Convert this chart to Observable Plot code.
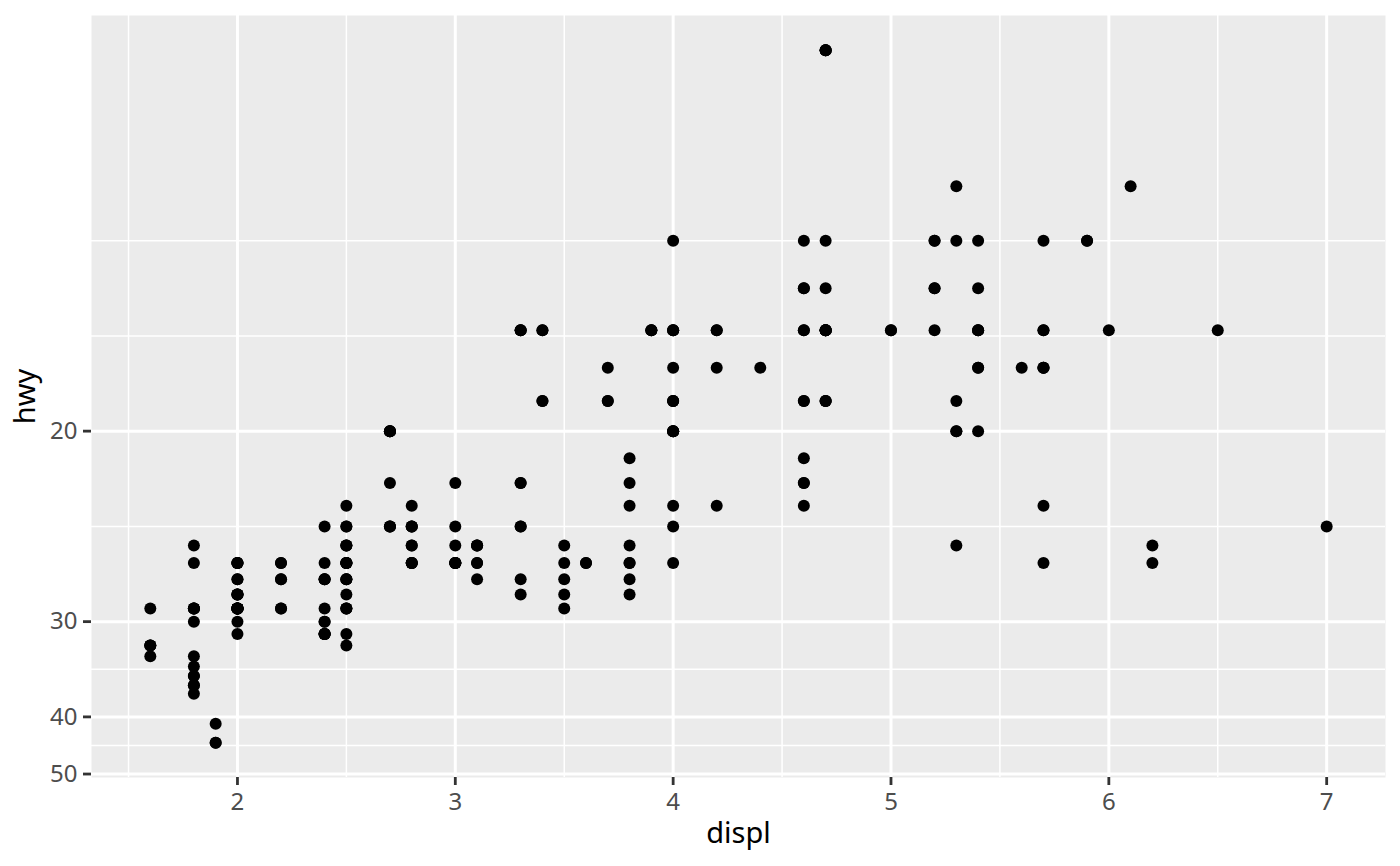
<!DOCTYPE html>
<html>
<head>
<meta charset="utf-8">
<script src="https://cdn.jsdelivr.net/npm/d3@7"></script>
<script src="https://cdn.jsdelivr.net/npm/@observablehq/plot@0.6"></script>
<style>
  html, body { margin: 0; padding: 0; background: #fff; }
  #chart { width: 1400px; height: 866px; }
</style>
</head>
<body>
<div id="chart"></div>
<script>
// mpg dataset: engine displacement (displ) and highway mpg (hwy)
const displ = [
  1.8,1.8,2.0,2.0,2.8,2.8,3.1,1.8,1.8,2.0,2.0,2.8,2.8,3.1,3.1,2.8,3.1,4.2,
  5.3,5.3,5.3,5.7,6.0,5.7,5.7,6.2,6.2,7.0,5.3,5.3,5.7,6.5,2.4,2.4,3.1,3.5,3.6,
  2.4,3.0,3.3,3.3,3.3,3.3,3.3,3.8,3.8,3.8,4.0,
  3.7,3.7,3.9,3.9,4.7,4.7,4.7,5.2,5.2,
  3.9,4.7,4.7,4.7,5.2,5.9,5.7,
  4.7,4.7,4.7,4.7,5.2,5.2,5.7,5.9,
  4.6,5.4,5.4,
  4.0,4.0,4.0,4.0,4.6,5.0,
  4.2,4.2,4.6,4.6,4.6,5.4,5.4,
  3.8,3.8,4.0,4.0,4.6,4.6,4.6,4.6,5.4,
  1.6,1.6,1.6,1.6,1.6,1.8,1.8,1.8,2.0,
  2.4,2.4,2.4,2.4,2.5,2.5,3.3,
  2.0,2.0,2.0,2.0,2.7,2.7,2.7,
  3.0,3.7,4.0,4.7,4.7,4.7,5.7,6.1,
  4.0,4.2,4.4,4.6,
  5.4,5.4,5.4,
  4.0,4.0,4.6,5.0,
  2.4,2.4,2.5,2.5,3.5,3.5,
  3.0,3.0,3.5,
  3.3,3.3,4.0,5.6,
  3.1,3.8,3.8,3.8,5.3,
  2.5,2.5,2.5,2.5,2.5,2.5,
  2.2,2.2,2.5,2.5,2.5,2.5,2.5,2.5,
  2.7,2.7,3.4,3.4,4.0,4.7,
  2.2,2.2,2.4,2.4,3.0,3.0,3.5,
  2.2,2.2,2.4,2.4,3.0,3.0,3.3,
  1.8,1.8,1.8,1.8,1.8,
  4.7,5.7,
  2.7,2.7,2.7,3.4,3.4,4.0,4.0,
  2.0,2.0,2.0,2.0,2.8,
  1.9,2.0,2.0,2.0,2.0,2.5,2.5,2.8,2.8,
  1.9,1.9,2.0,2.0,2.5,2.5,
  1.8,1.8,2.0,2.0,2.8,2.8,3.6
];
const hwy = [
  29,29,31,30,26,26,27,26,25,28,27,25,25,25,25,24,25,23,
  20,15,20,17,17,26,23,26,25,24,19,14,15,17,27,30,26,29,26,
  24,24,22,22,24,24,17,22,21,23,23,
  19,18,17,17,19,19,12,17,15,
  17,17,12,17,16,15,18,
  16,12,17,17,15,16,17,15,
  17,17,18,
  17,19,17,19,19,17,
  17,17,16,16,17,15,17,
  26,25,26,24,21,22,23,22,20,
  33,32,32,29,32,34,36,36,29,
  26,27,30,31,26,26,28,
  26,29,28,27,24,24,24,
  22,19,20,17,12,19,18,14,
  15,18,18,15,
  17,16,18,
  17,19,19,17,
  29,27,31,32,27,26,
  26,25,25,
  17,17,20,18,
  26,26,27,28,25,
  25,24,27,25,23,26,
  26,26,26,26,27,25,27,24,
  20,20,19,17,20,17,
  29,27,31,31,26,26,28,
  27,29,31,31,26,26,27,
  30,33,35,37,35,
  15,18,
  20,20,22,17,19,18,20,
  29,26,29,29,24,
  44,29,26,29,29,29,29,23,24,
  44,41,29,26,28,29,
  29,29,28,28,26,26,26
];

// Axis breaks (y breaks are in hwy units; the scale is reciprocal)
const xBreaks = [2, 3, 4, 5, 6, 7];
const xMinor = [1.5, 2.5, 3.5, 4.5, 5.5, 6.5];
const yBreaks = [20, 30, 40, 50];
const yMinor = [44.444, 34.286, 24, 17.143, 15];

const points = displ.map((d, i) => ({displ: d, hwy: hwy[i], inv: 1 / hwy[i]}));

// Continuous-scale expansion (5%), y in transformed (reciprocal) space
const xlo = d3.min(displ), xhi = d3.max(displ);
const xpad = (xhi - xlo) * 0.05;
const ylo = 1 / d3.max(hwy), yhi = 1 / d3.min(hwy);
const ypad = (yhi - ylo) * 0.05;

const font = "'Noto Sans', 'Open Sans', sans-serif";

const chart = Plot.plot({
  width: 1400,
  height: 866,
  marginLeft: 91,
  marginRight: 15,
  marginTop: 15,
  marginBottom: 89,
  style: {fontFamily: font, background: "#ffffff"},
  x: {domain: [xlo - xpad, xhi + xpad]},
  y: {domain: [ylo - ypad, yhi + ypad]},
  marks: [
    Plot.frame({fill: "#EBEBEB", stroke: "none"}),
    Plot.ruleX(xMinor, {stroke: "#ffffff", strokeWidth: 1.5}),
    Plot.ruleY(yMinor.map(v => 1 / v), {stroke: "#ffffff", strokeWidth: 1.5}),
    Plot.ruleX(xBreaks, {stroke: "#ffffff", strokeWidth: 3}),
    Plot.ruleY(yBreaks.map(v => 1 / v), {stroke: "#ffffff", strokeWidth: 3}),
    Plot.dot(points, {x: "displ", y: "inv", r: 6, fill: "#000000", stroke: "none"}),
    Plot.axisX(xBreaks, {
      label: null, tickSize: 8, tickPadding: 7, fontSize: 24,
      stroke: "#333333", strokeWidth: 2.8, fill: "#4D4D4D",
      tickFormat: d => String(d)
    }),
    Plot.axisY(yBreaks.map(v => 1 / v), {
      label: null, tickSize: 8, tickPadding: 6, fontSize: 24,
      stroke: "#333333", strokeWidth: 2.8, fill: "#4D4D4D",
      tickFormat: d => String(Math.round(1 / d))
    }),
    Plot.text(["displ"], {
      frameAnchor: "bottom", lineAnchor: "bottom", textAnchor: "middle", dy: 65,
      fontSize: 29, fill: "#000000", text: d => d
    }),
    Plot.text(["hwy"], {
      frameAnchor: "left", lineAnchor: "bottom", textAnchor: "middle", rotate: -90, dx: -57,
      fontSize: 29, fill: "#000000", text: d => d
    })
  ]
});

document.getElementById("chart").appendChild(chart);
</script>
</body>
</html>
